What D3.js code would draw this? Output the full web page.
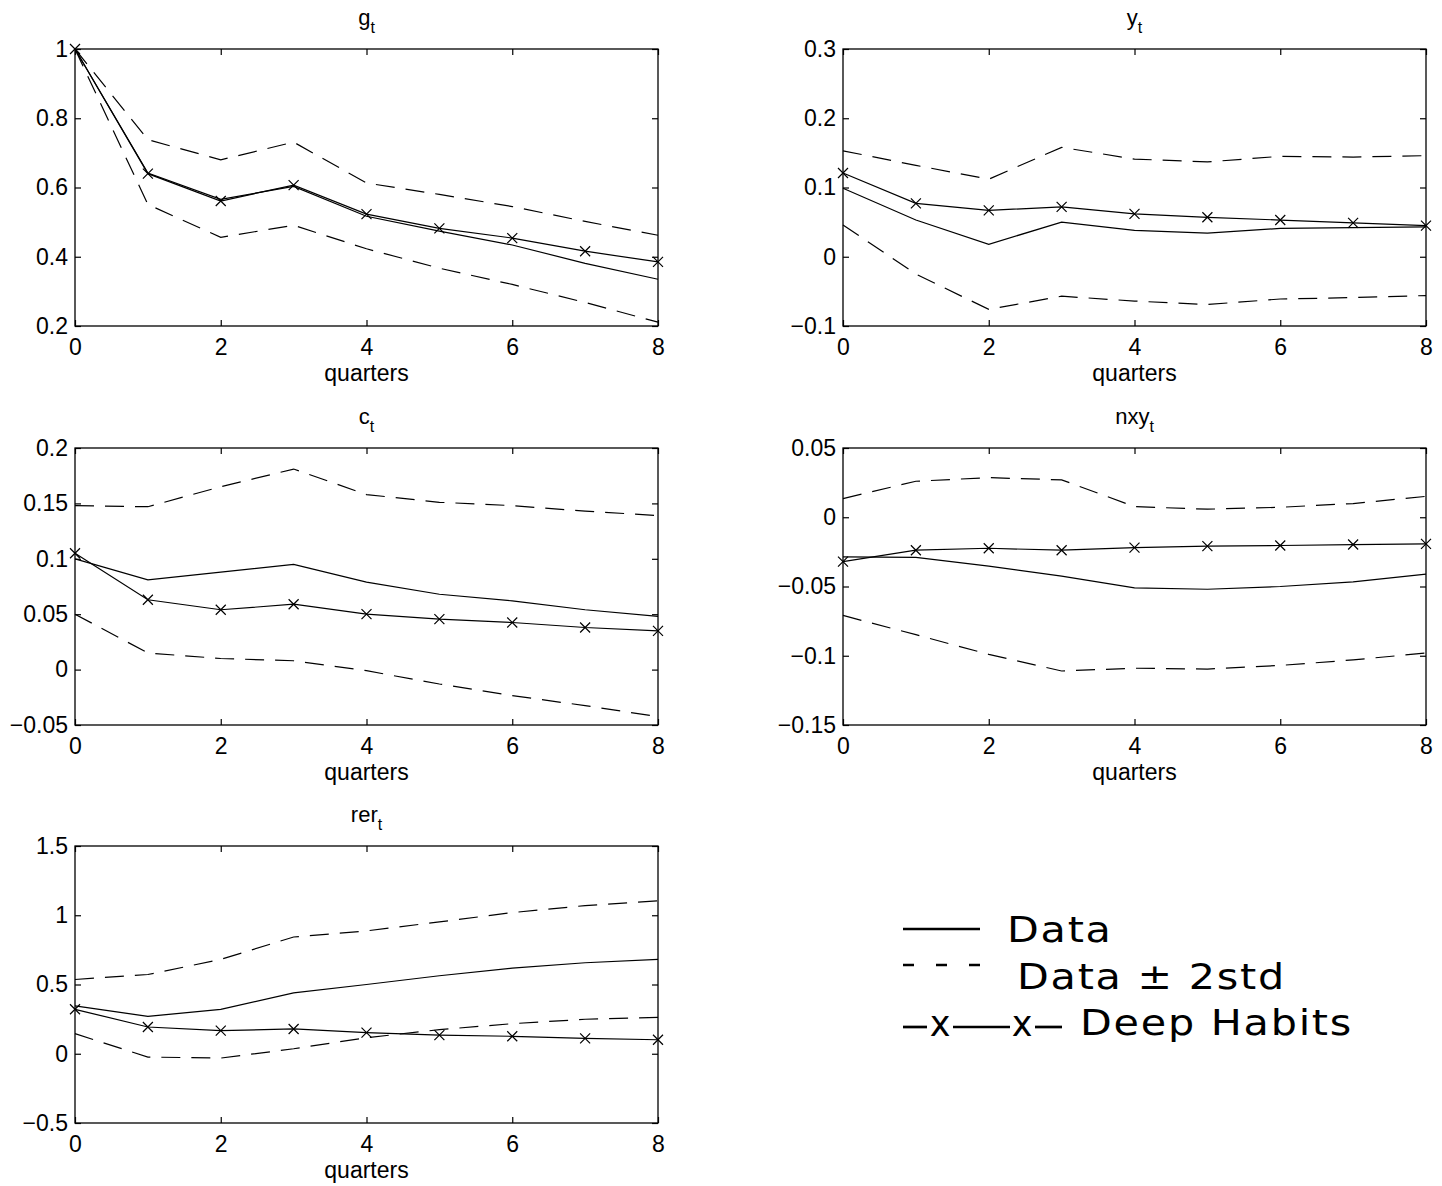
<!DOCTYPE html>
<html>
<head>
<meta charset="utf-8">
<script src="https://cdn.jsdelivr.net/npm/d3@7"></script>
<style>
  body { margin: 0; background: #fff; }
  svg { display: block; }
</style>
</head>
<body>
<script>
const width = 1442;
const height = 1186;

// Horizon in quarters.
const quarters = [0, 1, 2, 3, 4, 5, 6, 7, 8];

// g_t
const gData   = [1.000, 0.642, 0.566, 0.603, 0.517, 0.474, 0.434, 0.381, 0.335];
const gHabits = [1.000, 0.640, 0.561, 0.607, 0.523, 0.482, 0.454, 0.416, 0.385];
const gUpper  = [1.000, 0.738, 0.680, 0.731, 0.613, 0.580, 0.545, 0.502, 0.462];
const gLower  = [1.000, 0.551, 0.456, 0.491, 0.423, 0.367, 0.320, 0.268, 0.211];

// y_t
const yData   = [0.099, 0.053, 0.018, 0.050, 0.038, 0.034, 0.041, 0.042, 0.043];
const yHabits = [0.121, 0.077, 0.067, 0.072, 0.062, 0.057, 0.053, 0.049, 0.045];
const yUpper  = [0.153, 0.132, 0.112, 0.158, 0.141, 0.137, 0.145, 0.144, 0.146];
const yLower  = [0.046, -0.025, -0.076, -0.057, -0.064, -0.069, -0.061, -0.059, -0.056];

// c_t
const cData   = [0.100, 0.081, 0.088, 0.095, 0.079, 0.068, 0.062, 0.054, 0.048];
const cHabits = [0.105, 0.063, 0.054, 0.059, 0.050, 0.0455, 0.0425, 0.038, 0.035];
const cUpper  = [0.148, 0.147, 0.165, 0.181, 0.158, 0.151, 0.148, 0.143, 0.139];
const cLower  = [0.050, 0.015, 0.010, 0.008, -0.001, -0.013, -0.0235, -0.0325, -0.0425];

// nxy_t
const nData   = [-0.0286, -0.029, -0.0353, -0.0425, -0.051, -0.052, -0.050, -0.0466, -0.041];
const nHabits = [-0.032, -0.0238, -0.0224, -0.0238, -0.0219, -0.0209, -0.0204, -0.0197, -0.0192];
const nUpper  = [0.0135, 0.026, 0.0286, 0.027, 0.0077, 0.0058, 0.0072, 0.0099, 0.0151];
const nLower  = [-0.0709, -0.0848, -0.099, -0.111, -0.109, -0.1096, -0.107, -0.103, -0.098];

// rer_t
const rData   = [0.345, 0.270, 0.320, 0.440, 0.500, 0.563, 0.618, 0.657, 0.681];
const rHabits = [0.321, 0.193, 0.167, 0.179, 0.152, 0.135, 0.126, 0.111, 0.101];
const rUpper  = [0.536, 0.572, 0.681, 0.843, 0.887, 0.952, 1.019, 1.070, 1.104];
const rLower  = [0.145, -0.024, -0.031, 0.036, 0.116, 0.174, 0.217, 0.249, 0.263];

// Axis ranges and tick values.
const gTicks = [0.2, 0.4, 0.6, 0.8, 1];
const yTicks = [-0.1, 0, 0.1, 0.2, 0.3];
const cTicks = [-0.05, 0, 0.05, 0.1, 0.15, 0.2];
const nTicks = [-0.15, -0.1, -0.05, 0, 0.05];
const rTicks = [-0.5, 0, 0.5, 1, 1.5];
const xTicks = [0, 2, 4, 6, 8];

const legendLabels = ["Data", "Data \u00b1 2std", "Deep Habits"];

// Subplot layout (pixels).
const colX = [75, 843];
const rowY = [49, 448, 846];
const plotW = 583;
const plotH = 277;
const tickLen = 6;
const tickFont = "'Liberation Sans', Arial, Helvetica, sans-serif";

const panels = [
  { name: "g",   col: 0, row: 0, ticks: gTicks, data: gData, habits: gHabits, upper: gUpper, lower: gLower },
  { name: "y",   col: 1, row: 0, ticks: yTicks, data: yData, habits: yHabits, upper: yUpper, lower: yLower },
  { name: "c",   col: 0, row: 1, ticks: cTicks, data: cData, habits: cHabits, upper: cUpper, lower: cLower },
  { name: "nxy", col: 1, row: 1, ticks: nTicks, data: nData, habits: nHabits, upper: nUpper, lower: nLower },
  { name: "rer", col: 0, row: 2, ticks: rTicks, data: rData, habits: rHabits, upper: rUpper, lower: rLower }
];

const svg = d3.select("body").append("svg")
  .attr("width", width)
  .attr("height", height);

// MATLAB style numbers: no trailing zeros, proper minus sign.
const fmt = v => {
  const s = String(Math.round(Math.abs(v) * 1000) / 1000);
  return (v < 0 ? "\u2212" : "") + s;
};

panels.forEach(p => {
  const g = svg.append("g")
    .attr("transform", `translate(${colX[p.col]},${rowY[p.row]})`);

  const x = d3.scaleLinear().domain([0, 8]).range([0, plotW]);
  const y = d3.scaleLinear().domain(d3.extent(p.ticks)).range([plotH, 0]);

  const styleAxis = a => {
    a.select(".domain").remove();
    a.attr("font-size", 23).attr("font-family", tickFont);
    a.selectAll("line").attr("stroke", "#000").attr("stroke-width", 1.2);
    a.selectAll("text").attr("fill", "#000");
  };

  // Bottom and left axes with labels, ticks pointing inward.
  g.append("g")
    .attr("transform", `translate(0,${plotH})`)
    .call(d3.axisBottom(x).tickValues(xTicks).tickSizeInner(-tickLen).tickSizeOuter(0).tickPadding(13).tickFormat(d3.format("d")))
    .call(styleAxis);
  g.append("g")
    .call(d3.axisLeft(y).tickValues(p.ticks).tickSizeInner(-tickLen).tickSizeOuter(0).tickPadding(7).tickFormat(fmt))
    .call(styleAxis);
  // Top and right ticks only.
  g.append("g")
    .call(d3.axisTop(x).tickValues(xTicks).tickSizeInner(-tickLen).tickSizeOuter(0).tickFormat(""))
    .call(styleAxis);
  g.append("g")
    .attr("transform", `translate(${plotW},0)`)
    .call(d3.axisRight(y).tickValues(p.ticks).tickSizeInner(-tickLen).tickSizeOuter(0).tickFormat(""))
    .call(styleAxis);

  // Box.
  g.append("rect")
    .attr("width", plotW)
    .attr("height", plotH)
    .attr("fill", "none")
    .attr("stroke", "#000")
    .attr("stroke-width", 1.3);

  const line = d3.line()
    .x((d, i) => x(quarters[i]))
    .y(d => y(d));

  // Bands.
  [p.upper, p.lower].forEach(s => {
    g.append("path")
      .attr("d", line(s))
      .attr("fill", "none")
      .attr("stroke", "#000")
      .attr("stroke-width", 1.2)
      .attr("stroke-dasharray", "19,11");
  });

  // Data and model lines.
  [p.data, p.habits].forEach(s => {
    g.append("path")
      .attr("d", line(s))
      .attr("fill", "none")
      .attr("stroke", "#000")
      .attr("stroke-width", 1.2);
  });

  // Cross markers on model response.
  const m = 5;
  g.selectAll(".marker")
    .data(p.habits)
    .enter()
    .append("path")
    .attr("class", "marker")
    .attr("transform", (d, i) => `translate(${x(quarters[i])},${y(d)})`)
    .attr("d", `M${-m},${-m}L${m},${m}M${-m},${m}L${m},${-m}`)
    .attr("stroke", "#000")
    .attr("stroke-width", 1.2);

  // Title with subscript t.
  const title = g.append("text")
    .attr("x", plotW / 2)
    .attr("y", -24)
    .attr("text-anchor", "middle")
    .attr("font-family", tickFont)
    .attr("font-size", 22);
  title.append("tspan").text(p.name);
  title.append("tspan").attr("dy", 8).attr("font-size", 16).text("t");

  // x-axis label.
  g.append("text")
    .attr("x", plotW / 2)
    .attr("y", plotH + 55)
    .attr("text-anchor", "middle")
    .attr("font-family", tickFont)
    .attr("font-size", 23)
    .text("quarters");
});

// Legend in the empty sixth slot.
const leg = svg.append("g")
  .attr("font-family", "'DejaVu Sans', sans-serif")
  .attr("font-size", 35);

const legStroke = 2.7;
const legText = (x0, y0, s) => leg.append("text")
  .attr("transform", `translate(${x0},${y0}) scale(1.18,1)`)
  .attr("letter-spacing", 1.5)
  .text(s);

// Solid sample.
leg.append("line")
  .attr("x1", 903).attr("x2", 980).attr("y1", 929).attr("y2", 929)
  .attr("stroke", "#000").attr("stroke-width", legStroke);
legText(1007, 942, legendLabels[0]);

// Dashed sample.
leg.append("line")
  .attr("x1", 903).attr("x2", 980).attr("y1", 965).attr("y2", 965)
  .attr("stroke", "#000").attr("stroke-width", legStroke)
  .attr("stroke-dasharray", "11,22");
legText(1017, 989, legendLabels[1]);

// Model sample: -x--x-
[[903, 927], [953, 1010], [1035, 1062]].forEach(([a, b]) => {
  leg.append("line")
    .attr("x1", a).attr("x2", b).attr("y1", 1027).attr("y2", 1027)
    .attr("stroke", "#000").attr("stroke-width", legStroke);
});
[940, 1022].forEach(cx => {
  leg.append("text")
    .attr("x", cx).attr("y", 1036)
    .attr("text-anchor", "middle")
    .text("x");
});
legText(1080, 1035, legendLabels[2]);
</script>
</body>
</html>
